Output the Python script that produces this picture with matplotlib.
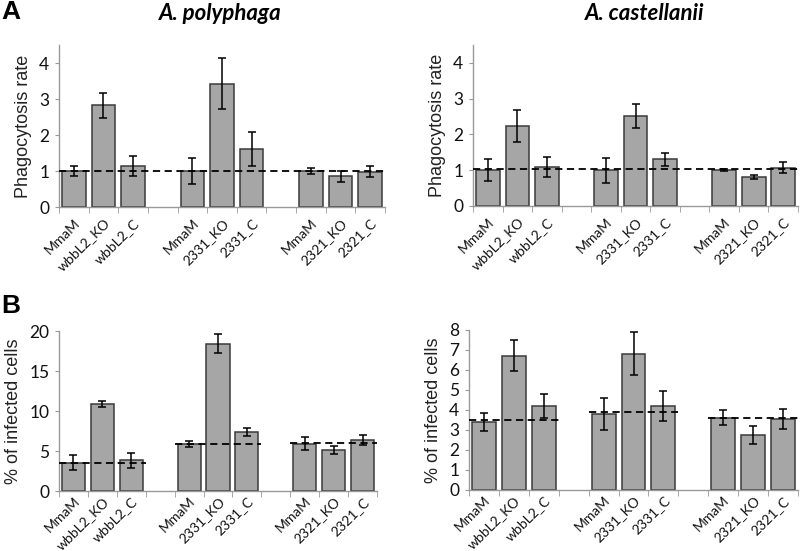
import matplotlib.pyplot as plt
import numpy as np

# categories (three groups of three strains)
labels = ["MmaM", "wbbL2_KO", "wbbL2_C",
          "MmaM", "2331_KO", "2331_C",
          "MmaM", "2321_KO", "2321_C"]

# A: phagocytosis rate
poly_rate = [1.0, 2.82, 1.15, 1.0, 3.42, 1.60, 1.0, 0.85, 0.98]
poly_rate_err = [0.13, 0.36, 0.28, 0.37, 0.71, 0.47, 0.07, 0.15, 0.15]
cast_rate = [1.0, 2.23, 1.09, 1.0, 2.51, 1.30, 1.0, 0.81, 1.07]
cast_rate_err = [0.31, 0.44, 0.28, 0.35, 0.34, 0.17, 0.03, 0.05, 0.15]
poly_rate_ref = 1.0
cast_rate_ref = 1.04

# B: % of infected cells
poly_inf = [3.55, 10.9, 3.85, 5.9, 18.4, 7.4, 5.9, 5.07, 6.35]
poly_inf_err = [0.93, 0.37, 0.95, 0.37, 1.2, 0.48, 0.8, 0.5, 0.6]
cast_inf = [3.41, 6.72, 4.21, 3.81, 6.82, 4.19, 3.62, 2.75, 3.55]
cast_inf_err = [0.46, 0.78, 0.61, 0.8, 1.06, 0.75, 0.36, 0.47, 0.48]
poly_inf_ref = [3.55, 5.93, 6.0]
cast_inf_ref = [3.49, 3.88, 3.61]

W, H = 800, 551
fig = plt.figure(figsize=(8, 5.51), dpi=100)

tick_font = "Lato"
label_font = "Liberation Sans"
x = np.array([0, 1, 2, 4, 5, 6, 8, 9, 10])


def make_axes(left, right, bottom, top):
    return fig.add_axes([left / W, (H - bottom) / H, (right - left) / W, (bottom - top) / H])


def draw(ax, vals, errs, ymax, ystep, ylabel, ref, pad):
    ax.bar(x, vals, width=0.8, color="#a6a6a6", edgecolor="#3a3a3a", linewidth=1.1, zorder=2)
    ax.errorbar(x, vals, yerr=errs, fmt="none", ecolor="black", elinewidth=1.1,
                capsize=3, capthick=1.1, zorder=4)
    if np.ndim(ref) == 0:
        ax.axhline(ref, color="black", linestyle=(0, (4, 2.5)), linewidth=1.3, zorder=3)
    else:
        for g, r in enumerate(ref):
            ax.hlines(r, 4 * g - 0.5, 4 * g + 2.5, color="black",
                      linestyle=(0, (4, 2.5)), linewidth=1.3, zorder=3)
    ax.set_xlim(-0.5, 10.5)
    ax.set_ylim(0, ymax)
    ax.set_yticks(np.arange(0, ymax + 0.01, ystep))
    for s in ["top", "right"]:
        ax.spines[s].set_visible(False)
    for s in ["left", "bottom"]:
        ax.spines[s].set_color("#999999")
        ax.spines[s].set_linewidth(1.0)
    ax.set_xticks(x)
    ax.set_xticklabels(labels, rotation=45, ha="right", rotation_mode="anchor",
                       family=tick_font, fontsize=10, color="#111111")
    ax.set_xticks(np.arange(-0.5, 11, 1), minor=True)
    ax.tick_params(axis="x", which="major", length=0, pad=pad)
    ax.tick_params(axis="x", which="minor", length=4, color="#999999", direction="out")
    ax.tick_params(axis="y", length=3, color="#999999", direction="out", pad=4)
    for t in ax.get_yticklabels():
        t.set_family(tick_font)
        t.set_fontsize(12.5)
        t.set_color("#111111")
    ax.set_ylabel(ylabel, family=label_font, fontsize=13, color="#222222", labelpad=5)


ax1 = make_axes(59, 385, 207, 45)
draw(ax1, poly_rate, poly_rate_err, 4.5, 1, "Phagocytosis rate", poly_rate_ref, 7)
ax2 = make_axes(473, 798, 206, 45)
draw(ax2, cast_rate, cast_rate_err, 4.5, 1, "Phagocytosis rate", cast_rate_ref, 7)
ax3 = make_axes(59, 377, 491, 331)
draw(ax3, poly_inf, poly_inf_err, 20, 5, "% of infected cells", poly_inf_ref, 3)
ax4 = make_axes(469, 798, 490, 330)
draw(ax4, cast_inf, cast_inf_err, 8, 1, "% of infected cells", cast_inf_ref, 3)

fig.text(220 / W, 1 - 14 / H, "A. polyphaga", family=tick_font, fontweight="bold",
         fontstyle="italic", fontsize=16, ha="center", va="center")
fig.text(645 / W, 1 - 14 / H, "A. castellanii", family=tick_font, fontweight="bold",
         fontstyle="italic", fontsize=16, ha="center", va="center")
fig.text(1 / W, 1 - 12 / H, "A", family=label_font, fontweight="bold", fontsize=19,
         ha="left", va="center")
fig.text(1 / W, 1 - 306 / H, "B", family=label_font, fontweight="bold", fontsize=19,
         ha="left", va="center")

fig.savefig("out.png", dpi=100)
